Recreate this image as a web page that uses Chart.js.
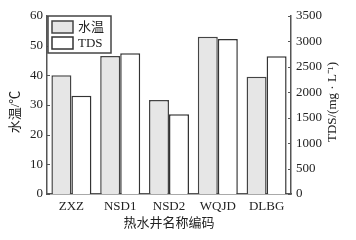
<!DOCTYPE html>
<html>
<head>
<meta charset="utf-8">
<script src="https://cdn.jsdelivr.net/npm/chart.js@4/dist/chart.umd.min.js"></script>
<style>
  html, body { margin: 0; padding: 0; background: #fff; }
  #wrap { width: 356px; height: 240px; }
</style>
</head>
<body>
<div id="wrap"><canvas id="chart" width="356" height="240"></canvas></div>
<script>
const categories = ['ZXZ', 'NSD1', 'NSD2', 'WQJD', 'DLBG'];
const waterTemp = [40, 46.5, 31.7, 53, 39.5];
const tds = [1930, 2770, 1570, 3050, 2710];
const tempTicks = [0, 60, 10];
const tdsTicks = [0, 3500, 500];

const FONT = '"Liberation Serif", "Times New Roman", "Noto Sans CJK SC", serif';
const INK = '#222';
const AXIS = '#555';

// small inward tick marks on both value axes
const innerTicks = {
    id: 'innerTicks',
    afterDraw(chart) {
        const ctx = chart.ctx;
        ctx.save();
        ctx.strokeStyle = AXIS;
        ctx.lineWidth = 1;
        for (const id of ['y', 'y1']) {
            const scale = chart.scales[id];
            const x = id === 'y' ? scale.right : scale.left;
            const dir = id === 'y' ? 1 : -1;
            scale.ticks.forEach(t => {
                const y = Math.round(scale.getPixelForValue(t.value)) + 0.5;
                ctx.beginPath();
                ctx.moveTo(x, y);
                ctx.lineTo(x + dir * 3, y);
                ctx.stroke();
            });
        }
        ctx.restore();
    }
};

// axis titles, both read bottom-to-top
const sideTitles = {
    id: 'sideTitles',
    afterDraw(chart) {
        const { ctx, chartArea } = chart;
        const mid = (chartArea.top + chartArea.bottom) / 2;
        ctx.save();
        ctx.fillStyle = INK;
        ctx.font = '13px ' + FONT;
        ctx.textAlign = 'center';
        ctx.textBaseline = 'middle';
        [['水温/℃', chartArea.left - 31, mid + 7],
         ['TDS/(mg · L⁻¹)', chartArea.right + 42, mid - 3]].forEach(([text, x, y]) => {
            ctx.save();
            ctx.translate(x, y);
            ctx.rotate(-Math.PI / 2);
            ctx.fillText(text, 0, 0);
            ctx.restore();
        });
        ctx.restore();
    }
};

// boxed legend inside the top-left corner of the plot
const innerLegend = {
    id: 'innerLegend',
    afterDraw(chart) {
        const { ctx, chartArea } = chart;
        const x0 = chartArea.left + 1;
        const y0 = chartArea.top;
        ctx.save();
        ctx.fillStyle = '#fff';
        ctx.strokeStyle = '#444';
        ctx.lineWidth = 1.5;
        ctx.fillRect(x0, y0, 63, 37);
        ctx.strokeRect(x0, y0, 63, 37);
        ctx.font = '13px ' + FONT;
        ctx.textBaseline = 'middle';
        chart.data.datasets.forEach((ds, i) => {
            const sy = y0 + 5 + i * 16;
            ctx.fillStyle = ds.backgroundColor;
            ctx.fillRect(x0 + 4, sy, 21, 12);
            ctx.strokeStyle = ds.borderColor;
            ctx.strokeRect(x0 + 4, sy, 21, 12);
            ctx.fillStyle = INK;
            ctx.fillText(ds.label, x0 + 30, sy + 6.5);
        });
        ctx.restore();
    }
};

const tickFont = { family: FONT, size: 13 };
const plain = v => String(v);

const ctx = document.getElementById('chart').getContext('2d');

new Chart(ctx, {
    type: 'bar',
    data: {
        labels: categories,
        datasets: [
            {
                label: '水温',
                data: waterTemp,
                yAxisID: 'y',
                backgroundColor: '#e6e6e6',
                borderColor: '#444',
                borderWidth: 1.5
            },
            {
                label: 'TDS',
                data: tds,
                yAxisID: 'y1',
                backgroundColor: '#ffffff',
                borderColor: '#333',
                borderWidth: 1.5
            }
        ]
    },
    options: {
        responsive: false,
        animation: false,
        devicePixelRatio: 1,
        layout: { padding: { top: 16, left: 0, right: 0, bottom: 0 } },
        datasets: { bar: { categoryPercentage: 0.82, barPercentage: 1 } },
        plugins: {
            legend: { display: false },
            tooltip: { enabled: false }
        },
        scales: {
            x: {
                grid: { display: false, drawTicks: false },
                border: { display: true, color: AXIS, width: 1.5 },
                ticks: { color: INK, font: tickFont, padding: 5, maxRotation: 0 },
                title: {
                    display: true,
                    text: '热水井名称编码',
                    color: INK,
                    font: tickFont,
                    padding: { top: 0, bottom: 9 }
                },
                afterFit: s => { s.height = 46; }
            },
            y: {
                position: 'left',
                min: tempTicks[0],
                max: tempTicks[1],
                grid: { display: false, drawTicks: false },
                border: { display: true, color: AXIS, width: 1.5 },
                ticks: { stepSize: tempTicks[2], color: INK, font: tickFont, padding: 4, callback: plain },
                afterFit: s => { s.width = 47; }
            },
            y1: {
                position: 'right',
                min: tdsTicks[0],
                max: tdsTicks[1],
                grid: { display: false, drawTicks: false },
                border: { display: true, color: AXIS, width: 1.5 },
                ticks: { stepSize: tdsTicks[2], color: INK, font: tickFont, padding: 5, callback: plain },
                afterFit: s => { s.width = 65; }
            }
        }
    },
    plugins: [innerTicks, sideTitles, innerLegend]
});
</script>
</body>
</html>
